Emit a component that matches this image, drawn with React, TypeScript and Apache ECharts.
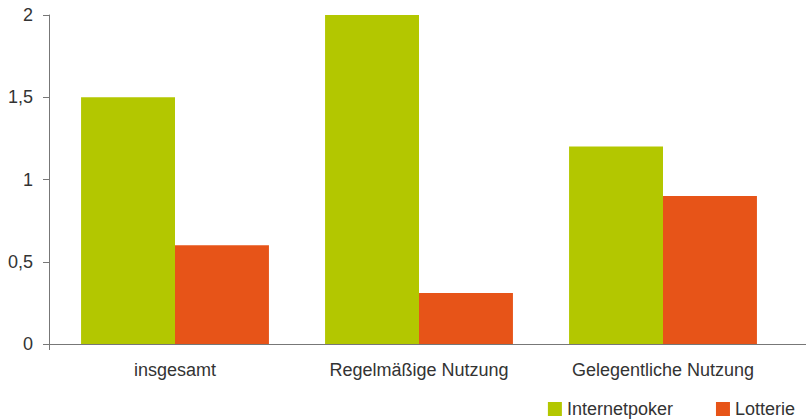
import React, { useEffect, useRef } from "react";
import * as echarts from "echarts";

const categories = ["insgesamt", "Regelmäßige Nutzung", "Gelegentliche Nutzung"];
const internetpoker = [1.5, 2.0, 1.2];
const lotterie = [0.6, 0.31, 0.9];
const seriesNames = ["Internetpoker", "Lotterie"];
const yTicks = [0, 0.5, 1, 1.5, 2];

export default function App() {
  const ref = useRef<HTMLDivElement>(null);
  useEffect(() => {
    if (!ref.current) return;
    const chart = echarts.init(ref.current, null, { renderer: "svg" });
    const font = "Liberation Sans";
    chart.setOption({
      animation: false,
      textStyle: { fontFamily: font },
      grid: { left: 53, right: 21, top: 15, bottom: 76, containLabel: false },
      legend: {
        right: 6,
        bottom: -3,
        itemWidth: 14,
        itemHeight: 14,
        itemGap: 43,
        icon: "rect",
        textStyle: { fontSize: 18, color: "#333", fontFamily: font },
        data: seriesNames,
      },
      xAxis: {
        type: "category",
        data: categories,
        axisLine: { lineStyle: { color: "#777", width: 1 } },
        axisTick: { show: false },
        axisLabel: { fontSize: 18, color: "#333", margin: 17, fontFamily: font },
      },
      yAxis: {
        type: "value",
        min: yTicks[0],
        max: yTicks[yTicks.length - 1],
        interval: 0.5,
        offset: 4,
        axisLine: { show: true, lineStyle: { color: "#777", width: 1 } },
        axisTick: { show: true, length: 6, lineStyle: { color: "#777" } },
        splitLine: { show: false },
        axisLabel: {
          fontSize: 18,
          color: "#333",
          margin: 16,
          fontFamily: font,
          formatter: (v: number) => String(v).replace(".", ","),
        },
      },
      series: [
        {
          name: seriesNames[0],
          type: "bar",
          data: internetpoker,
          itemStyle: { color: "#b3c700" },
          barGap: "0%",
          barCategoryGap: "23%",
        },
        {
          name: seriesNames[1],
          type: "bar",
          data: lotterie,
          itemStyle: { color: "#e75418" },
          barGap: "0%",
          barCategoryGap: "23%",
        },
      ],
    });
    const p0 = chart.convertToPixel({ gridIndex: 0 }, [0, 0]) as number[];
    const w = chart.getWidth();
    chart.setOption({
      graphic: [
        {
          type: "line",
          shape: { x1: 49, y1: p0[1] + 0.5, x2: w, y2: p0[1] + 0.5 },
          style: { stroke: "#777", lineWidth: 1 },
          z: 10,
        },
        {
          type: "line",
          shape: { x1: 49.5, y1: p0[1], x2: 49.5, y2: p0[1] + 6 },
          style: { stroke: "#777", lineWidth: 1 },
          z: 10,
        },
      ],
    });
    return () => chart.dispose();
  }, []);
  return <div ref={ref} style={{ width: 806, height: 420, position: "absolute", left: 0, top: 0 }} />;
}
